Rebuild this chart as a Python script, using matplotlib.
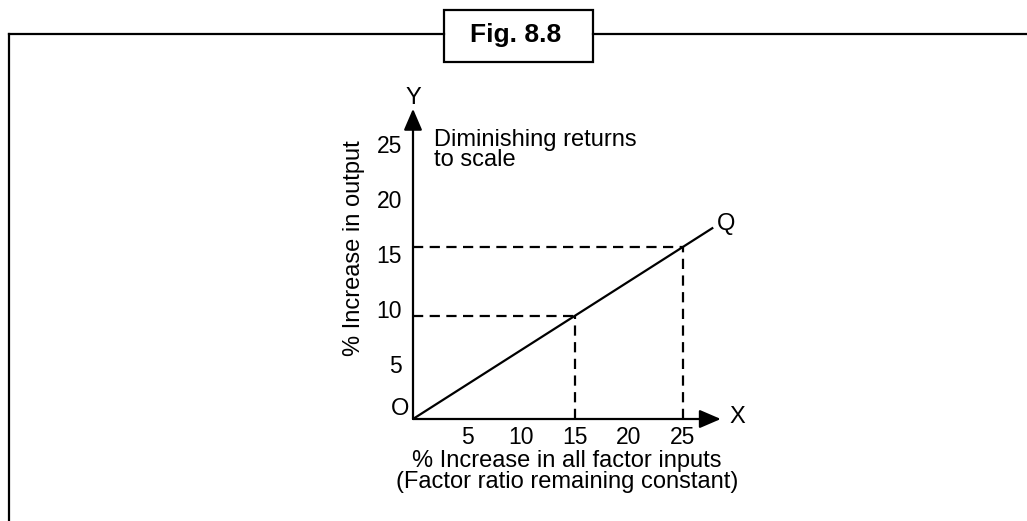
import matplotlib
matplotlib.use("Agg")
import matplotlib.pyplot as plt
from matplotlib.lines import Line2D
from matplotlib.patches import Rectangle
import numpy as np

plt.rcParams['font.family'] = ['Liberation Sans', 'DejaVu Sans']

# ---- data ----
x_ticks = [5, 10, 15, 20, 25]
y_ticks = [5, 10, 15, 20, 25]
q_x, q_y = 27.8, 17.4          # end point Q of the line OQ
guide_x = [15, 25]             # dashed guides dropped from the line
fig_title = "Fig. 8.8"
x_label = "% Increase in all factor inputs\n(Factor ratio remaining constant)"
y_label = "% Increase in output"
note = "Diminishing returns\nto scale"

W, H = 1027, 521
fig = plt.figure(figsize=(W / 100, H / 100), dpi=100)

def fx(px):
    return px / W

def fy(py):
    return 1 - py / H

# axes placement (origin at pixel 413, 419)
ax = fig.add_axes([fx(413), fy(419), 324 / W, 330 / H])
ax.set_xlim(0, 30)
ax.set_ylim(0, 30)
for s in ax.spines.values():
    s.set_visible(False)
ax.patch.set_visible(False)

lw = 1.6
# axes arrows
arrow = dict(arrowstyle="-|>,head_length=0.65,head_width=0.28", color="black",
             lw=lw, shrinkA=0, shrinkB=0, mutation_scale=20)
ax.annotate("", xy=(28.5, 0), xytext=(0, 0), arrowprops=arrow, annotation_clip=False)
ax.annotate("", xy=(0, 28.2), xytext=(0, 0), arrowprops=arrow, annotation_clip=False)

# line OQ
ax.plot([0, q_x], [0, q_y], color="black", lw=lw, solid_capstyle="butt", clip_on=False)

# dashed guides
slope = q_y / q_x
dash = (0, (4.6, 2.9))
for gx in guide_x:
    gy = slope * gx
    ax.plot([gx, gx], [0, gy], color="black", lw=lw, ls=dash, clip_on=False)
    ax.plot([0, gx], [gy, gy], color="black", lw=lw, ls=dash, clip_on=False)

# ticks
ax.set_xticks(x_ticks)
ax.set_xticklabels([str(v) for v in x_ticks], fontsize=16.5)
ax.set_yticks(y_ticks)
ax.set_yticklabels([str(v) for v in y_ticks], fontsize=16.5)
ax.tick_params(axis='x', length=0, pad=5)
ax.tick_params(axis='y', length=0, pad=8)

# axis labels
ax.set_ylabel(y_label, fontsize=17)
ax.yaxis.set_label_coords(-0.148, 0.518)
ax.set_xlabel(x_label, fontsize=17, linespacing=0.9)
ax.xaxis.set_label_coords(0.475, -0.095)

# point labels
ax.text(-1.2, 0.9, "O", fontsize=17, ha="center", va="center")
ax.text(0, 29.2, "Y", fontsize=17, ha="center", va="center")
ax.text(30.0, 0.15, "X", fontsize=17, ha="center", va="center")
ax.text(29.0, 17.7, "Q", fontsize=17, ha="center", va="center")
ax.text(1.95, 26.4, note, fontsize=17, ha="left", va="top", linespacing=0.93)

# frame with title box
flw = 1.6
fig.add_artist(Line2D([fx(9), fx(444)], [fy(34), fy(34)], color="black", lw=flw))
fig.add_artist(Line2D([fx(593), fx(1027)], [fy(34), fy(34)], color="black", lw=flw))
fig.add_artist(Line2D([fx(9), fx(9)], [fy(34), fy(521)], color="black", lw=flw))
fig.add_artist(Rectangle((fx(444), fy(62)), fx(593) - fx(444), fy(10) - fy(62),
                         fill=False, edgecolor="black", lw=flw))
fig.text(fx(516), fy(35), fig_title, fontsize=19, fontweight="bold",
         ha="center", va="center")

fig.savefig("out.png", dpi=100)
